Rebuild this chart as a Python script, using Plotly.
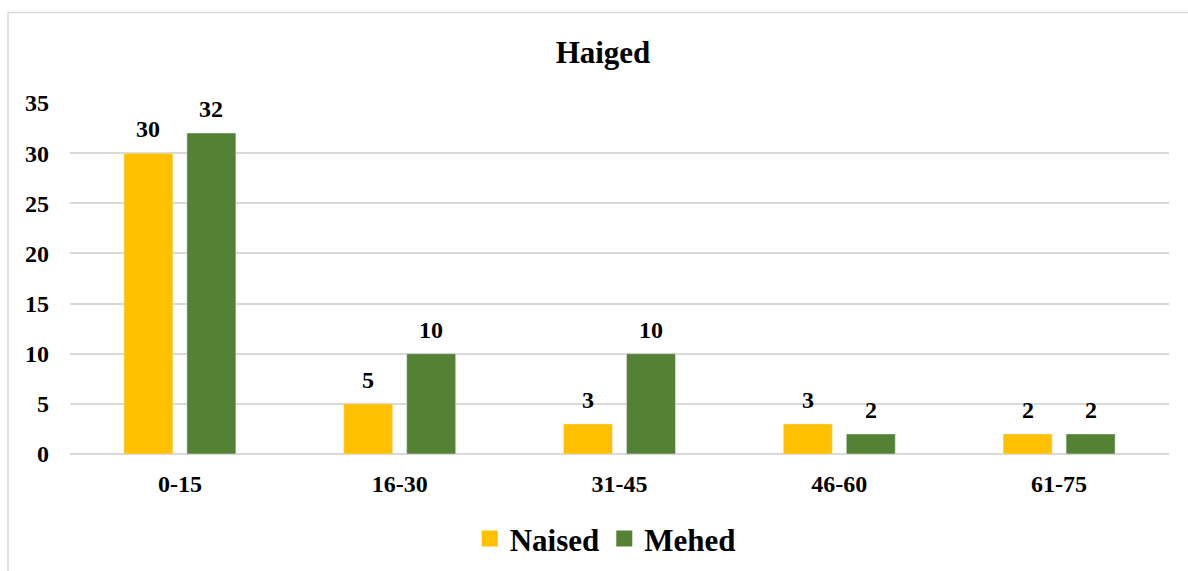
import plotly.graph_objects as go

# Age groups and counts per sex
categories = ["0-15", "16-30", "31-45", "46-60", "61-75"]
naised = [30, 5, 3, 3, 2]
mehed = [32, 10, 10, 2, 2]
y_ticks = [0, 5, 10, 15, 20, 25, 30, 35]

FONT = "Liberation Serif, Times New Roman, serif"
YELLOW = "#FFC000"
GREEN = "#548235"
GRID = "#D9D9D9"

fig = go.Figure()
fig.add_trace(go.Bar(x=categories, y=naised, name="Naised", marker_color=YELLOW,
                     showlegend=False))
fig.add_trace(go.Bar(x=categories, y=mehed, name="Mehed", marker_color=GREEN,
                     showlegend=False))

# Legend entries with larger square swatches
for name, color in [("Naised", YELLOW), ("Mehed", GREEN)]:
    fig.add_trace(go.Scatter(x=[None], y=[None], mode="markers", name=name,
                             marker=dict(symbol="square", size=16, color=color)))

# Value labels above each bar
for vals, shift in [(naised, -31.5), (mehed, 31.5)]:
    for c, v in zip(categories, vals):
        fig.add_annotation(x=c, y=v, text=str(v), showarrow=False,
                           xshift=shift, yshift=9, yanchor="bottom",
                           font=dict(family=FONT, size=24, color="black", weight="bold"))

# Light frame around the chart
fig.add_shape(type="rect", xref="paper", yref="paper",
              x0=-0.0564, x1=1.03, y0=-0.6, y1=1.2578,
              line=dict(color=GRID, width=1.5), layer="below")

fig.update_layout(
    width=1188, height=571,
    margin=dict(l=70, r=19, t=103, b=117, autoexpand=False),
    paper_bgcolor="white", plot_bgcolor="white",
    barmode="group", bargap=0.427, bargroupgap=0.222,
    font=dict(family=FONT, size=24, color="black"),
    title=dict(text="<b>Haiged</b>", x=603 / 1188, xanchor="center",
               y=1 - 52 / 571, yanchor="middle", xref="container", yref="container",
               font=dict(family=FONT, size=31, color="black")),
    legend=dict(orientation="h", x=0.487, xanchor="center", y=-0.165, yanchor="top",
                font=dict(family=FONT, size=31, color="black", weight="bold"),
                itemwidth=30, bgcolor="rgba(0,0,0,0)"),
    showlegend=True,
)
fig.update_xaxes(showgrid=False, showline=False, zeroline=False,
                 ticks="outside", ticklen=8, tickcolor="rgba(0,0,0,0)",
                 tickfont=dict(family=FONT, size=24, color="black", weight="bold"))
fig.update_yaxes(range=[0, 35], tickvals=y_ticks, showgrid=True, gridcolor=GRID,
                 gridwidth=1.5, zeroline=True, zerolinecolor=GRID, zerolinewidth=1.5,
                 showline=False, ticklabelstandoff=20,
                 tickfont=dict(family=FONT, size=24, color="black", weight="bold"))

fig.write_html("out.html")
